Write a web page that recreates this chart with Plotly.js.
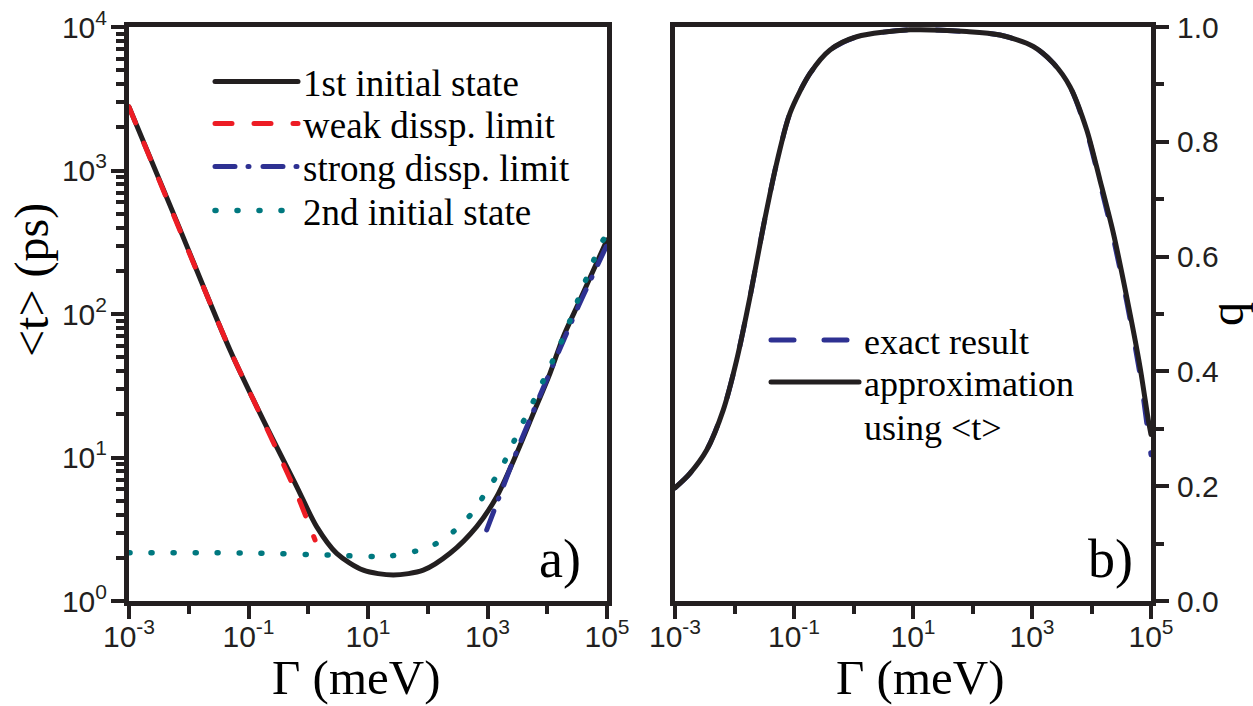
<!DOCTYPE html>
<html><head><meta charset="utf-8">
<script src="https://cdn.plot.ly/plotly-3.0.1.min.js"></script>
<style>
html,body{margin:0;padding:0;background:#fff;}
#chart{width:1253px;height:706px;}
path.js-line {stroke-linecap: round; stroke-linejoin: round;}
</style></head><body><div id="chart"></div><script>
// ---- panel a) data : mean time <t> (ps) vs Gamma (meV) ----
const gamma1st = [1e-3, 0.00631, 0.049, 0.177, 0.641, 1.38, 2.99, 8.34, 26.5, 84.1, 236, 659, 1426, 3083, 5848, 11120, 18580, 35320, 1e5];
const t1st     = [2773, 440, 56.1, 18.2, 6.27, 3.30, 2.15, 1.64, 1.52, 1.64, 2.15, 3.30, 5.33, 10.7, 20.3, 38.6, 69.5, 125, 328];
const gammaWeak = [1e-3, 0.049, 0.177, 0.641, 1.30];
const tWeak     = [2773, 56.1, 18.0, 5.6, 2.66];
const gammaStrong = [970, 3500, 31120, 1e5];
const tStrong     = [3.13, 12.6, 106.7, 303];
const gamma2nd = [1e-3, 0.106, 2.31, 23.3, 109, 268, 578, 970, 1618, 2382, 3499, 5140, 7568, 11117, 16330, 22490, 31120, 57680, 81470, 1e5];
const t2nd     = [2.17, 2.16, 2.09, 2.06, 2.39, 3.04, 4.19, 5.87, 8.09, 11.3, 16.0, 22.0, 30.8, 43.0, 60.8, 83.8, 119, 228, 316, 356];
// ---- panel b) data : q vs Gamma (meV) ----
const gammaQ  = [1e-3, 0.001786, 0.003412, 0.006486, 0.01089, 0.01824, 0.03048, 0.05117, 0.0857, 0.1858, 0.4027, 1.132, 8.913, 80.0, 289.7, 1052, 2280, 4355, 8299, 13900, 23280, 38990, 65310, 90160, 1e5];
const qApprox = [0.197, 0.2225, 0.263, 0.333, 0.420, 0.530, 0.652, 0.763, 0.850, 0.919, 0.960, 0.983, 0.995, 0.992, 0.986, 0.966, 0.937, 0.896, 0.821, 0.733, 0.641, 0.530, 0.408, 0.315, 0.29];
const qExact  = [0.197, 0.2225, 0.263, 0.333, 0.420, 0.530, 0.652, 0.763, 0.850, 0.919, 0.960, 0.983, 0.995, 0.992, 0.986, 0.966, 0.937, 0.896, 0.818, 0.728, 0.632, 0.522, 0.395, 0.29, 0.255];
// ---- ticks and texts ----
const xMajorVals = [1e-3, 1e-1, 1e1, 1e3, 1e5];
const xMajorText = ['10<sup>-3</sup>', '10<sup>-1</sup>', '10<sup>1</sup>', '10<sup>3</sup>', '10<sup>5</sup>'];
const xMinorVals = [1e-2, 1, 1e2, 1e4];
const tMajorVals = [1, 10, 100, 1000, 10000];
const tMajorText = ['10<sup>0</sup>', '10<sup>1</sup>', '10<sup>2</sup>', '10<sup>3</sup>', '10<sup>4</sup>'];
const tMinorMantissas = [2, 3, 4, 5, 6, 7, 8, 9];
const qMajorVals = [0, 0.2, 0.4, 0.6, 0.8, 1.0];
const qMajorText = ['0.0', '0.2', '0.4', '0.6', '0.8', '1.0'];
const qMinorVals = [0.1, 0.3, 0.5, 0.7, 0.9];
const legendLabels = ['1st initial state', 'weak dissp. limit', 'strong dissp. limit', '2nd initial state', 'exact result', 'approximation'];
const legendNote = 'using &lt;t&gt;';
const xTitle = 'Γ (meV)', yTitle = '&lt;t&gt; (ps)', y2Title = 'q';
const panelLabels = ['a)', 'b)'];

const tMinorVals = [];
[1, 10, 100, 1000].forEach(d => tMinorMantissas.forEach(m => tMinorVals.push(m * d)));

const W = 1253, H = 706;
const px = v => v / W, py = v => 1 - v / H;
const ink = '#231f20';
const black = '#231f20', red = '#ed1c24', navy = '#2e3192', teal = '#00787f';
const SANS = 'Liberation Sans', SERIF = 'Liberation Serif';

const traces = [
  {x: gamma1st, y: t1st, xaxis: 'x', yaxis: 'y', name: legendLabels[0], legend: 'legend',
   mode: 'lines', line: {color: black, width: 5, shape: 'spline', smoothing: 0.8}},
  {x: gammaWeak, y: tWeak, xaxis: 'x', yaxis: 'y', name: legendLabels[1], legend: 'legend2',
   mode: 'lines', line: {color: red, width: 5, dash: '17px,22px', shape: 'spline', smoothing: 0.5}},
  {x: gammaStrong, y: tStrong, xaxis: 'x', yaxis: 'y', name: legendLabels[2], legend: 'legend3',
   mode: 'lines', line: {color: navy, width: 5, dash: '20px,13px,1px,14px', shape: 'spline', smoothing: 0.5}},
  {x: gamma2nd, y: t2nd, xaxis: 'x', yaxis: 'y', name: legendLabels[3], legend: 'legend4',
   mode: 'lines', line: {color: teal, width: 5.5, dash: '1px,21px', shape: 'spline', smoothing: 0.8}},
  {x: gammaQ, y: qExact, xaxis: 'x2', yaxis: 'y2', name: legendLabels[4], legend: 'legend5',
   mode: 'lines', line: {color: navy, width: 5, dash: '23px,30px', shape: 'spline', smoothing: 0.8}},
  {x: gammaQ, y: qApprox, xaxis: 'x2', yaxis: 'y2', name: legendLabels[5], legend: 'legend6',
   mode: 'lines', line: {color: black, width: 5, shape: 'spline', smoothing: 0.8}}
];

const tickFont = {family: SANS, size: 30, color: ink};

function xAx(dom, anchor) {
  return {type: 'log', domain: dom, anchor: anchor, range: [-3, 5], showline: true, linewidth: 5, linecolor: ink,
    mirror: true, showgrid: false, zeroline: false, ticks: 'outside', ticklen: 13, tickwidth: 4, tickcolor: ink,
    tickmode: 'array', tickvals: xMajorVals, ticktext: xMajorText, tickfont: tickFont, ticklabelstandoff: -8,
    minor: {tickmode: 'array', tickvals: xMinorVals, ticks: 'outside', ticklen: 8, tickwidth: 4, tickcolor: ink, showgrid: false},
    fixedrange: true};
}
function legendAt(xp, yc, size, iw) {
  return {x: px(xp), y: py(yc), xref: 'paper', yref: 'paper', xanchor: 'left', yanchor: 'middle',
    bgcolor: 'rgba(0,0,0,0)', borderwidth: 0, itemwidth: iw, itemclick: false, itemdoubleclick: false,
    font: {family: SERIF, size: size, color: '#000'}};
}
function note(text, x, y, size, opts) {
  return Object.assign({text: text, x: px(x), y: py(y), xref: 'paper', yref: 'paper', showarrow: false,
    borderpad: 0, borderwidth: 0, xanchor: 'center', yanchor: 'middle',
    font: {family: SERIF, size: size, color: '#000'}}, opts || {});
}

const layout = {
  width: W, height: H, autosize: false, margin: {l: 0, r: 0, t: 0, b: 0},
  paper_bgcolor: '#fff', plot_bgcolor: '#fff', showlegend: true, font: {family: SERIF, color: '#000'},
  xaxis: xAx([px(129), px(607)], 'y'),
  xaxis2: xAx([px(675), px(1151)], 'y2'),
  yaxis: {type: 'log', domain: [py(601), py(27)], anchor: 'x', range: [0, 4], showline: true, linewidth: 5, linecolor: ink,
    mirror: true, showgrid: false, zeroline: false, ticks: 'outside', ticklen: 13, tickwidth: 4, tickcolor: ink,
    tickmode: 'array', tickvals: tMajorVals, ticktext: tMajorText, tickfont: tickFont, ticklabelstandoff: -2,
    minor: {tickmode: 'array', tickvals: tMinorVals, ticks: 'outside', ticklen: 8, tickwidth: 4, tickcolor: ink, showgrid: false},
    fixedrange: true},
  yaxis2: {domain: [py(601), py(27)], anchor: 'x2', side: 'right', range: [0, 1], showline: true, linewidth: 5, linecolor: ink,
    mirror: true, showgrid: false, zeroline: false, ticks: 'outside', ticklen: 13, tickwidth: 4, tickcolor: ink,
    tickmode: 'array', tickvals: qMajorVals, ticktext: qMajorText, tickfont: tickFont, ticklabelstandoff: 2,
    minor: {tickmode: 'array', tickvals: qMinorVals, ticks: 'outside', ticklen: 8, tickwidth: 4, tickcolor: ink, showgrid: false},
    title: {text: y2Title, font: {family: SERIF, size: 48, color: '#000'}, standoff: 10}, fixedrange: true},
  legend: legendAt(210, 82, 37, 83),
  legend2: legendAt(210, 124, 37, 83),
  legend3: legendAt(210, 167, 37, 83),
  legend4: legendAt(210, 211, 37, 83),
  legend5: legendAt(766, 340, 36, 88),
  legend6: legendAt(766, 382, 36, 88),
  annotations: [
    note(xTitle, 356, 705, 49, {yanchor: 'bottom'}),
    note(xTitle, 920, 705, 49, {yanchor: 'bottom'}),
    note(yTitle, 32, 280, 48, {textangle: -90}),
    note(legendNote, 864, 428, 36, {xanchor: 'left'}),
    note(panelLabels[0], 560, 559, 54),
    note(panelLabels[1], 1110, 559, 54)
  ]
};

Plotly.newPlot('chart', traces, layout, {staticPlot: true, displayModeBar: false});
</script></body></html>
